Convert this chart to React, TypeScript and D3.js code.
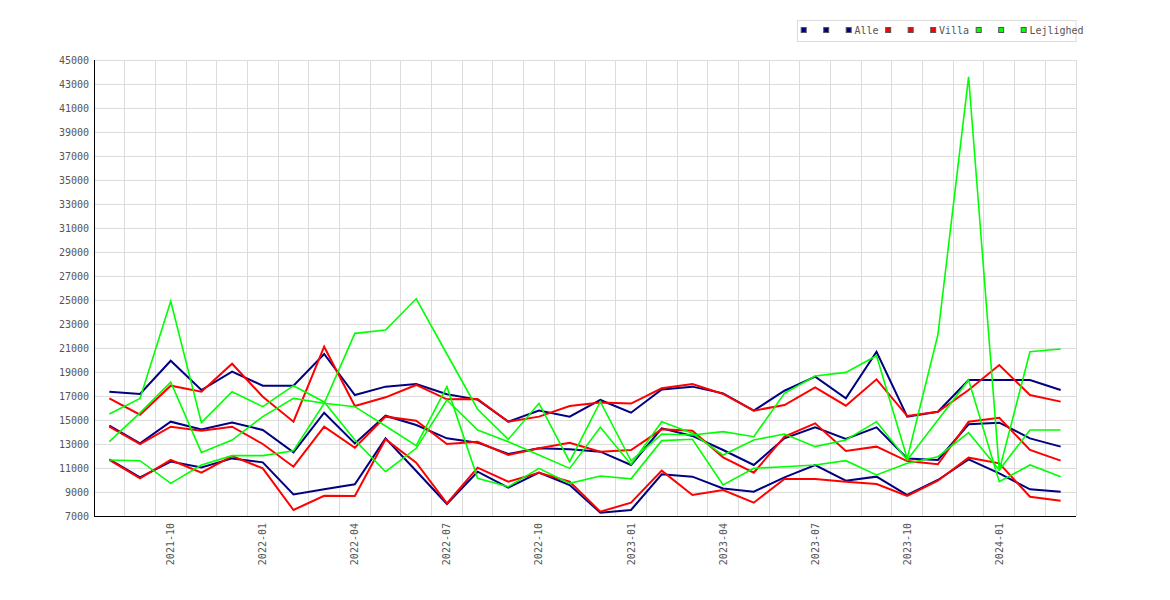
import * as d3 from 'd3';

// months on the x axis
const months = [
  '2021-08', '2021-09', '2021-10', '2021-11', '2021-12', '2022-01', '2022-02', '2022-03',
  '2022-04', '2022-05', '2022-06', '2022-07', '2022-08', '2022-09', '2022-10', '2022-11',
  '2022-12', '2023-01', '2023-02', '2023-03', '2023-04', '2023-05', '2023-06', '2023-07',
  '2023-08', '2023-09', '2023-10', '2023-11', '2023-12', '2024-01', '2024-02', '2024-03',
];

const alleHigh = [17360, 17170, 19940, 17500, 19030, 17860, 17860, 20500, 17080, 17780, 18000, 17140, 16700, 14860, 15780, 15280, 16670, 15610, 17550, 17780, 17220, 15780, 17440, 18610, 16800, 20690, 15280, 15690, 18330, 18330, 18330, 17500];
const alleMid = [14530, 13050, 14860, 14220, 14780, 14170, 12300, 15610, 13050, 15360, 14580, 13470, 13110, 12170, 12640, 12560, 12360, 11250, 14300, 13670, 12500, 11250, 13470, 14390, 13420, 14390, 11800, 11670, 14640, 14780, 13470, 12780];
const alleLow = [11720, 10220, 11530, 11050, 11800, 11470, 8800, 9220, 9640, 13470, 10750, 8000, 10690, 9360, 10610, 9580, 7280, 7500, 10470, 10280, 9300, 9030, 10220, 11250, 9940, 10280, 8750, 10000, 11720, 10550, 9220, 9030];

const villaHigh = [16800, 15440, 17860, 17360, 19690, 16940, 14860, 21110, 16170, 16890, 17920, 16720, 16750, 14860, 15280, 16170, 16450, 16370, 17640, 18000, 17170, 15780, 16250, 17720, 16190, 18390, 15330, 15690, 17500, 19580, 17080, 16530];
const villaMid = [14440, 13000, 14440, 14110, 14440, 13000, 11110, 14440, 12690, 15280, 14940, 13000, 13190, 12080, 12640, 13110, 12360, 12500, 14220, 14110, 11890, 10610, 13610, 14720, 12420, 12780, 11580, 11310, 14860, 15190, 12500, 11610];
const villaLow = [11670, 10140, 11670, 10610, 12000, 10970, 7500, 8690, 8670, 13390, 11440, 8050, 11030, 9860, 10610, 9860, 7360, 8110, 10780, 8750, 9170, 8110, 10080, 10080, 9860, 9670, 8670, 9940, 11860, 11390, 8610, 8280];

const lejlA = [15500, 16800, 24900, 14780, 17360, 16110, 17860, 16500, 13330, 10690, 12640, 16670, 14170, 13190, 12080, 10970, 14390, 11300, 14860, 13890, 12080, 13330, 13830, 12780, 13330, 14860, 11670, 15000, 18330, 9860, 11250, 10280];
const lejlB = [13200, 15600, 18150, 12300, 13330, 15280, 16800, 16400, 16110, 14500, 12860, 17780, 10140, 9440, 10970, 9720, 10330, 10100, 13280, 13390, 9580, 10970, 11110, 11250, 11610, 10420, 11390, 11940, 13940, 10830, 14170, 14170];
const lejlC = [11670, 11610, 9720, 11250, 12030, 12030, 12440, 16390, 22220, 22500, 25100, 20500, 15900, 13390, 16390, 11530, 16530, 11600, 13830, 13750, 14030, 13610, 17220, 18670, 18970, 20360, 11800, 22100, 43600, 10800, 20690, 20920];

const groupNames = ['Alle', 'Villa', 'Lejlighed'];
const groupColors = ['#000080', '#ff0000', '#00ff00'];
const groupSeries = [
  [alleHigh, alleMid, alleLow],
  [villaHigh, villaMid, villaLow],
  [lejlA, lejlB, lejlC],
];

const yTicks = d3.range(7000, 45001, 2000);
const xTickMonths = months.filter(m => ['01', '04', '07', '10'].includes(m.slice(5)));

const W = 1170;
const H = 600;
const font = '"DejaVu Sans Mono", monospace';

export default function App() {
  const x = d3.scaleBand<string>().domain(months).range([94, 1076]);
  const y = d3.scaleLinear().domain([7000, 45000]).range([516, 60]);
  const cx = (m: string) => (x(m) as number) + x.bandwidth() / 2;

  const line = d3.line<number>()
    .x((_, i) => cx(months[i]))
    .y(d => y(d));

  // legend layout
  const charW = 6.02;
  let cursor = 800.7;
  const legendItems: { sq: number[]; tx: number; name: string; color: string }[] = [];
  groupNames.forEach((name, g) => {
    const sq = [cursor, cursor + 22.5, cursor + 45];
    const tx = cursor + 53.7;
    legendItems.push({ sq, tx, name, color: groupColors[g] });
    cursor = tx + name.length * charW + 6.7;
  });

  return (
    <svg width={W} height={H} style={{ position: 'absolute', left: 0, top: 0, background: '#fff' }}>
      <rect x={0} y={0} width={W} height={H} fill="#fff" />

      {/* grid */}
      <g stroke="#dcdcdc" strokeWidth={1} shapeRendering="crispEdges">
        {yTicks.map(t => (
          <line key={'h' + t} x1={94} x2={1076} y1={y(t)} y2={y(t)} />
        ))}
        {months.map(m => (
          <line key={'v' + m} x1={(x(m) as number) + x.bandwidth()} x2={(x(m) as number) + x.bandwidth()} y1={60} y2={516} />
        ))}
      </g>

      {/* series */}
      {groupSeries.map((series, g) => (
        <g key={g}>
          {series.map((s, k) => (
            <path key={k} d={line(s) as string} fill="none" stroke={groupColors[g]}
              strokeWidth={g === 2 ? 1.6 : 2} strokeLinejoin="miter" />
          ))}
        </g>
      ))}

      {/* axes */}
      <g stroke="#000" strokeWidth={1} shapeRendering="crispEdges">
        <line x1={94} x2={94} y1={60} y2={516} />
        <line x1={94} x2={1076} y1={516} y2={516} />
      </g>

      {/* y labels */}
      <g fontFamily={font} fontSize={10} fill="#555" textAnchor="end">
        {yTicks.map(t => (
          <text key={t} x={89} y={y(t)} dy="0.35em">{t}</text>
        ))}
      </g>

      {/* x labels */}
      <g fontFamily={font} fontSize={10} fill="#555" textAnchor="end">
        {xTickMonths.map(m => (
          <text key={m} transform={`translate(${cx(m)},523) rotate(-90)`} dy="0.35em">{m}</text>
        ))}
      </g>

      {/* legend */}
      <rect x={797.5} y={20.5} width={278.5} height={21} fill="none" stroke="#dcdcdc" />
      {legendItems.map(item => (
        <g key={item.name}>
          {item.sq.map((sx, j) => (
            <rect key={j} x={sx + 0.5} y={27.5} width={5} height={5} fill={item.color} stroke="#555" strokeWidth={1} />
          ))}
          <text x={item.tx} y={30.5} dy="0.35em" fontFamily={font} fontSize={10} fill="#555">{item.name}</text>
        </g>
      ))}
    </svg>
  );
}
